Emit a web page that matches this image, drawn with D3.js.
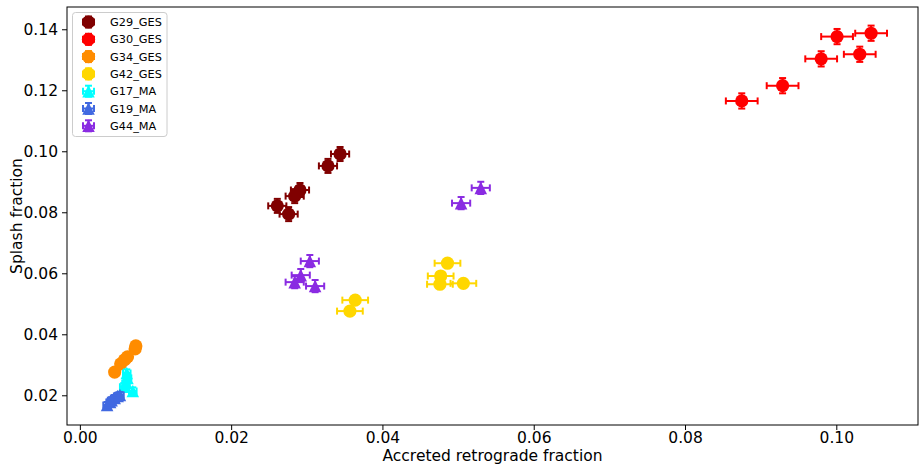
<!DOCTYPE html>
<html>
<head>
<meta charset="utf-8">
<script src="https://cdn.jsdelivr.net/npm/d3@7"></script>
<style>
  html, body { margin: 0; padding: 0; background: #fff; }
  svg { display: block; font-family: "DejaVu Sans", sans-serif; }
</style>
</head>
<body>
<svg id="chart" width="920" height="466"></svg>
<script>
// Series names, colours and marker kind
const seriesNames = ["G29_GES", "G30_GES", "G34_GES", "G42_GES", "G17_MA", "G19_MA", "G44_MA"];
const seriesColors = ["#800000", "#ff0000", "#ff8c00", "#ffd700", "#00ffff", "#4169e1", "#8a2be2"];
const seriesMarkers = ["circle", "circle", "circle", "circle", "triangle", "triangle", "triangle"];

// Accreted retrograde fraction (x) per series
const xG29 = [0.0344, 0.0328, 0.0291, 0.0284, 0.0261, 0.0276];
const xG30 = [0.1001, 0.1046, 0.0980, 0.1031, 0.0929, 0.0875];
const xG34 = [0.0046, 0.0054, 0.0059, 0.0063, 0.0073, 0.0074];
const xG42 = [0.0364, 0.0357, 0.0486, 0.0477, 0.0476, 0.0507];
const xG17 = [0.0062, 0.0063, 0.0061, 0.0058, 0.0070];
const xG19 = [0.0036, 0.0040, 0.0042, 0.0046, 0.0050, 0.0053];
const xG44 = [0.0304, 0.0292, 0.0284, 0.0311, 0.0530, 0.0504];

// Splash fraction (y) per series
const yG29 = [0.0991, 0.0952, 0.0873, 0.0853, 0.0821, 0.0794];
const yG30 = [0.1376, 0.1387, 0.1303, 0.1318, 0.1215, 0.1165];
const yG34 = [0.0276, 0.0303, 0.0316, 0.0326, 0.0352, 0.0362];
const yG42 = [0.0512, 0.0476, 0.0633, 0.0591, 0.0564, 0.0567];
const yG17 = [0.0273, 0.0257, 0.0240, 0.0228, 0.0214];
const yG19 = [0.0168, 0.0178, 0.0184, 0.0191, 0.0198, 0.0201];
const yG44 = [0.0640, 0.0594, 0.0571, 0.0558, 0.0880, 0.0830];

// Uncertainties (x, y) per series
const xErrG29 = [0.0012, 0.0012, 0.0012, 0.0012, 0.0012, 0.0012];
const yErrG29 = [0.0023, 0.0023, 0.0023, 0.0023, 0.0023, 0.0023];
const xErrG30 = [0.0021, 0.0021, 0.0021, 0.0021, 0.0021, 0.0021];
const yErrG30 = [0.0025, 0.0025, 0.0025, 0.0025, 0.0025, 0.0025];
const xErrG34 = [0.0003, 0.0003, 0.0003, 0.0003, 0.0003, 0.0003];
const yErrG34 = [0.0005, 0.0005, 0.0005, 0.0005, 0.0005, 0.0005];
const xErrG42 = [0.0017, 0.0017, 0.0017, 0.0017, 0.0017, 0.0017];
const yErrG42 = [0.0008, 0.0008, 0.0008, 0.0008, 0.0008, 0.0008];
const xErrG17 = [0.0005, 0.0005, 0.0005, 0.0005, 0.0005];
const yErrG17 = [0.0012, 0.0012, 0.0012, 0.0012, 0.0012];
const xErrG19 = [0.0005, 0.0005, 0.0005, 0.0005, 0.0005, 0.0005];
const yErrG19 = [0.0010, 0.0010, 0.0010, 0.0010, 0.0010, 0.0010];
const xErrG44 = [0.0012, 0.0012, 0.0012, 0.0012, 0.0012, 0.0012];
const yErrG44 = [0.0020, 0.0020, 0.0020, 0.0020, 0.0020, 0.0020];

// Axis ticks
const xTicks = [0.00, 0.02, 0.04, 0.06, 0.08, 0.10];
const yTicks = [0.02, 0.04, 0.06, 0.08, 0.10, 0.12, 0.14];
const xLabel = "Accreted retrograde fraction";
const yLabel = "Splash fraction";

const xs = [xG29, xG30, xG34, xG42, xG17, xG19, xG44];
const ys = [yG29, yG30, yG34, yG42, yG17, yG19, yG44];
const xErrs = [xErrG29, xErrG30, xErrG34, xErrG42, xErrG17, xErrG19, xErrG44];
const yErrs = [yErrG29, yErrG30, yErrG34, yErrG42, yErrG17, yErrG19, yErrG44];

const series = seriesNames.map((name, i) => ({
  name, color: seriesColors[i], marker: seriesMarkers[i],
  points: xs[i].map((xv, j) => ({ x: xv, y: ys[i][j], xe: xErrs[i][j], ye: yErrs[i][j] }))
}));

const plot = { left: 67, right: 918, top: 7, bottom: 425 };
const x = d3.scaleLinear().domain([-0.0017, 0.1108]).range([plot.left, plot.right]);
const y = d3.scaleLinear().domain([0.01026, 0.1473]).range([plot.bottom, plot.top]);

const svg = d3.select("#chart");

// Clip marks to the axes area
svg.append("defs").append("clipPath").attr("id", "plotClip")
  .append("rect").attr("x", plot.left).attr("y", plot.top)
  .attr("width", plot.right - plot.left).attr("height", plot.bottom - plot.top);

const R = 6.6;     // marker radius
const CAP = 3.5;   // half cap length
function trianglePath(r) {
  // bbox-centred upward triangle
  return `M0,${-r}L${r},${r}L${-r},${r}Z`;
}

const marks = svg.append("g").attr("clip-path", "url(#plotClip)");

series.forEach(s => {
  const g = marks.append("g");
  s.points.forEach(p => {
    const cx = x(p.x), cy = y(p.y);
    const x0 = x(p.x - p.xe), x1 = x(p.x + p.xe);
    const y0 = y(p.y - p.ye), y1 = y(p.y + p.ye);
    const eb = g.append("g").attr("stroke", s.color).attr("stroke-width", 2).attr("fill", "none");
    eb.append("line").attr("x1", x0).attr("x2", x1).attr("y1", cy).attr("y2", cy);
    eb.append("line").attr("x1", cx).attr("x2", cx).attr("y1", y0).attr("y2", y1);
    eb.append("line").attr("x1", x0).attr("x2", x0).attr("y1", cy - CAP).attr("y2", cy + CAP);
    eb.append("line").attr("x1", x1).attr("x2", x1).attr("y1", cy - CAP).attr("y2", cy + CAP);
    eb.append("line").attr("x1", cx - CAP).attr("x2", cx + CAP).attr("y1", y0).attr("y2", y0);
    eb.append("line").attr("x1", cx - CAP).attr("x2", cx + CAP).attr("y1", y1).attr("y2", y1);
  });
  s.points.forEach(p => {
    const cx = x(p.x), cy = y(p.y);
    if (s.marker === "circle") {
      g.append("circle").attr("cx", cx).attr("cy", cy).attr("r", R).attr("fill", s.color);
    } else {
      g.append("path").attr("d", trianglePath(R * 0.95))
        .attr("transform", `translate(${cx},${cy})`).attr("fill", s.color);
    }
  });
});

// Axes
const xAxis = svg.append("g").attr("transform", `translate(0,${plot.bottom})`)
  .call(d3.axisBottom(x).tickValues(xTicks).tickFormat(d3.format(".2f")).tickSize(5).tickPadding(2));
const yAxis = svg.append("g").attr("transform", `translate(${plot.left},0)`)
  .call(d3.axisLeft(y).tickValues(yTicks).tickFormat(d3.format(".2f")).tickSize(5).tickPadding(4));
[xAxis, yAxis].forEach(a => {
  a.select(".domain").remove();
  a.selectAll("text").attr("font-family", "DejaVu Sans").attr("font-size", 15.5).attr("fill", "#000");
  a.selectAll("line").attr("stroke", "#000").attr("stroke-width", 1);
});

// Frame
svg.append("rect").attr("x", plot.left).attr("y", plot.top)
  .attr("width", plot.right - plot.left).attr("height", plot.bottom - plot.top)
  .attr("fill", "none").attr("stroke", "#000").attr("stroke-width", 1);

// Axis labels
svg.append("text").attr("x", (plot.left + plot.right) / 2).attr("y", 461)
  .attr("text-anchor", "middle").attr("font-size", 15.5).text(xLabel);
svg.append("text").attr("transform", `translate(22,${(plot.top + plot.bottom) / 2}) rotate(-90)`)
  .attr("text-anchor", "middle").attr("font-size", 15.5).text(yLabel);

// Legend
const LEB = 5.5;   // legend error-bar half length
const leg = svg.append("g");
leg.append("rect").attr("x", 72.5).attr("y", 12.5).attr("width", 94.5).attr("height", 124)
  .attr("rx", 3).attr("fill", "#fff").attr("fill-opacity", 0.8)
  .attr("stroke", "#ccc").attr("stroke-width", 1);
series.forEach((s, i) => {
  const cy = 22 + i * 17.3, cx = 88.5;
  const item = leg.append("g");
  const eb = item.append("g").attr("stroke", s.color).attr("stroke-width", 2);
  eb.append("line").attr("x1", cx - LEB).attr("x2", cx + LEB).attr("y1", cy).attr("y2", cy);
  eb.append("line").attr("x1", cx).attr("x2", cx).attr("y1", cy - LEB).attr("y2", cy + LEB);
  eb.append("line").attr("x1", cx - LEB).attr("x2", cx - LEB).attr("y1", cy - CAP).attr("y2", cy + CAP);
  eb.append("line").attr("x1", cx + LEB).attr("x2", cx + LEB).attr("y1", cy - CAP).attr("y2", cy + CAP);
  eb.append("line").attr("x1", cx - CAP).attr("x2", cx + CAP).attr("y1", cy - LEB).attr("y2", cy - LEB);
  eb.append("line").attr("x1", cx - CAP).attr("x2", cx + CAP).attr("y1", cy + LEB).attr("y2", cy + LEB);
  if (s.marker === "circle") {
    item.append("circle").attr("cx", cx).attr("cy", cy).attr("r", R).attr("fill", s.color);
  } else {
    item.append("path").attr("d", trianglePath(R * 0.95))
      .attr("transform", `translate(${cx},${cy})`).attr("fill", s.color);
  }
  item.append("text").attr("x", 110).attr("y", cy + 4).attr("font-size", 11.3).text(s.name);
});
</script>
</body>
</html>
